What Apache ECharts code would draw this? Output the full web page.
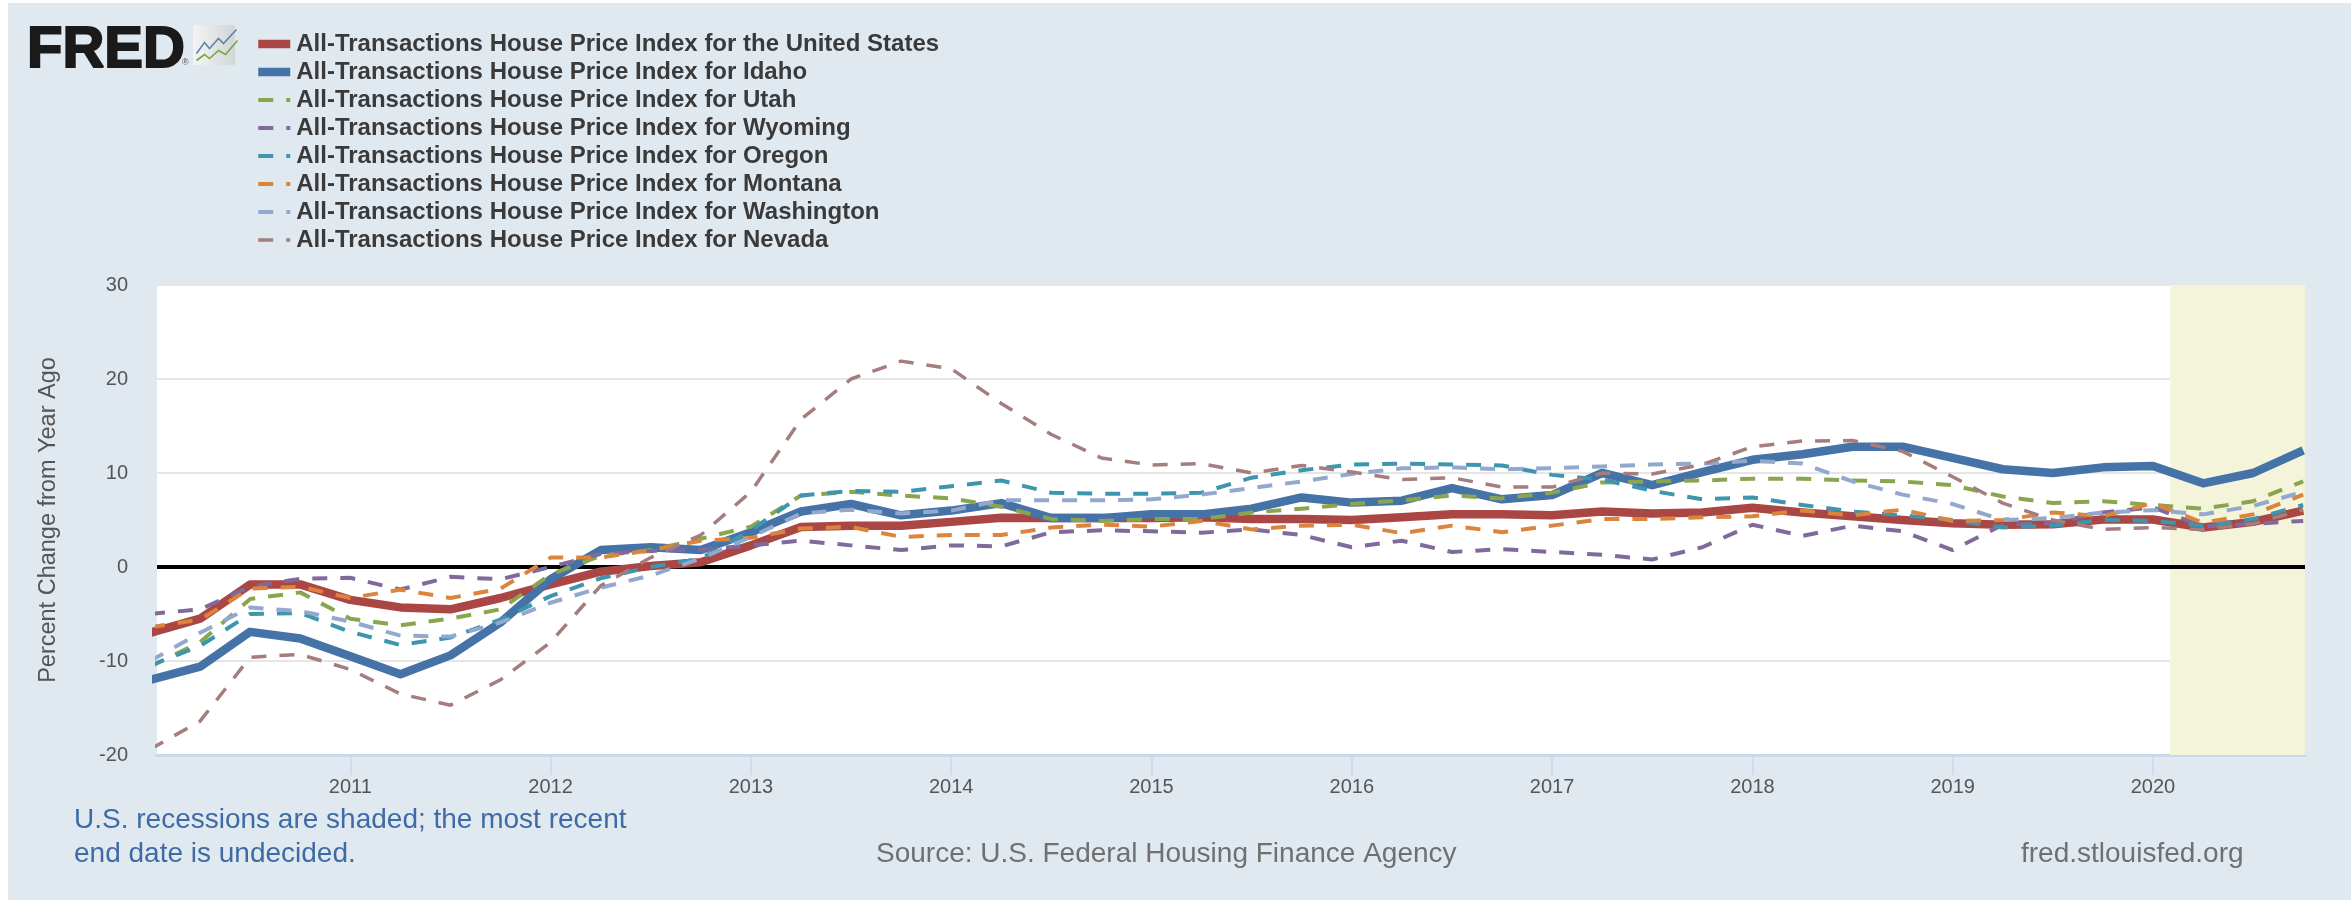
<!DOCTYPE html>
<html><head><meta charset="utf-8">
<style>
html,body{margin:0;padding:0;width:2351px;height:900px;background:#fff;overflow:hidden}
#bg{position:absolute;left:8px;top:3px;right:0;bottom:0;background:#e1e9f0}
#chart{position:absolute;left:0;top:0;width:2351px;height:900px}
</style>
<script src="https://cdn.jsdelivr.net/npm/echarts@6/dist/echarts.min.js"></script>
</head><body><div id="bg"></div><div id="chart"></div>
<script>
const quarters = [
 2010,2010.25,2010.5,2010.75, 2011,2011.25,2011.5,2011.75, 2012,2012.25,2012.5,2012.75,
 2013,2013.25,2013.5,2013.75, 2014,2014.25,2014.5,2014.75, 2015,2015.25,2015.5,2015.75,
 2016,2016.25,2016.5,2016.75, 2017,2017.25,2017.5,2017.75, 2018,2018.25,2018.5,2018.75,
 2019,2019.25,2019.5,2019.75, 2020,2020.25,2020.5,2020.75];
const yearTicks = [2011,2012,2013,2014,2015,2016,2017,2018,2019,2020];
const unitedStates = [-7.0,-5.5,-1.85,-1.85, -3.5,-4.3,-4.5,-3.3, -1.85,-0.5,0.1,0.5, 2.3,4.25,4.4,4.4, 4.8,5.25,5.2,5.2, 5.2,5.3,5.1,5.1, 5.0,5.3,5.6,5.6, 5.5,5.9,5.7,5.8, 6.3,5.8,5.4,5.0, 4.65,4.5,4.55,5.05, 5.05,4.2,4.8,6.0];
const idaho = [-12,-10.6,-6.9,-7.6, -9.5,-11.4,-9.4,-5.9, -1.3,1.8,2.1,1.8, 3.7,5.9,6.7,5.5, 6.0,6.8,5.2,5.2, 5.6,5.6,6.2,7.4, 6.85,7.05,8.4,7.2, 7.65,10,8.7,10.1, 11.4,12,12.8,12.8, 11.6,10.4,10,10.6, 10.75,8.9,10,12.4];
const utah = [-10.6,-8,-3.4,-2.7, -5.5,-6.2,-5.5,-4.5, -0.8,1.2,1.8,3, 4.3,7.6,8,7.6, 7.3,6.4,5.1,4.9, 5.1,5.1,5.8,6.2, 6.7,7.1,7.6,7.3, 7.9,9,9.1,9.2, 9.4,9.4,9.2,9.1, 8.7,7.5,6.8,7, 6.6,6.2,7,9.1];
const wyoming = [-5,-4.5,-2.1,-1.25, -1.15,-2.4,-1.05,-1.3, 0,1.4,1.7,1.85, 2.3,2.8,2.3,1.8, 2.3,2.2,3.7,3.9, 3.8,3.65,4,3.4, 2.1,2.8,1.6,1.9, 1.6,1.3,0.8,2.1, 4.5,3.3,4.4,3.8, 1.8,4.5,4.7,5.8, 6.35,4.3,4.6,4.9];
const oregon = [-10.5,-8.4,-5,-4.9, -6.9,-8.3,-7.5,-5.6, -3.1,-1.2,0,0.9, 3.9,7.6,8.1,8, 8.6,9.2,7.9,7.8, 7.8,7.9,9.5,10.3, 10.9,11,10.9,10.8, 9.8,9.3,8.1,7.2, 7.4,6.6,5.9,5.5, 5,4.2,4.4,5, 4.9,4.4,5.1,6.6];
const montana = [-6.4,-5.6,-2.3,-2.1, -3.3,-2.4,-3.3,-2.3, 1,1,1.8,2.8, 3.1,4.1,4.25,3.2, 3.4,3.4,4.2,4.5, 4.3,4.9,4,4.4, 4.5,3.6,4.4,3.7, 4.4,5.1,5.1,5.3, 5.4,6,5.5,6.1, 4.9,5,5.8,5.4, 6.8,4.7,5.6,7.7];
const washington = [-10,-7,-4.3,-4.7, -5.8,-7.3,-7.4,-5.9, -3.8,-2.2,-0.9,0.9, 3.2,5.7,6.1,5.7, 6,7.1,7.1,7.1, 7.2,7.7,8.4,9.1, 9.9,10.5,10.6,10.4, 10.5,10.7,10.9,11, 11.3,11,9.1,7.7, 6.7,5,5.2,5.8, 6.05,5.6,6.5,8];
const nevada = [-19.4,-16.4,-9.6,-9.3, -10.9,-13.5,-14.7,-12, -8,-2,1,3.4, 8,15.7,20,21.9, 21.1,17.4,14.1,11.6, 10.85,11,10,10.8, 10.1,9.3,9.5,8.5, 8.5,10,9.9,10.9, 12.8,13.4,13.45,12.3, 9.6,6.8,5,4, 4.2,4,4.6,6.1];
const recessionStart = 2020.086;
const axisStart = 2010.035, axisEnd = 2020.759;

const FONT = '"Liberation Sans", Arial, sans-serif';
const pair = v => v.map((y,i)=>[quarters[i],y]);
const prefix = 'All-Transactions House Price Index for ';
const dash = [15,13];
const defs = [
 {name:prefix+'the United States', data:unitedStates, color:'#aa4643', width:8.5},
 {name:prefix+'Idaho', data:idaho, color:'#4572a7', width:8.5},
 {name:prefix+'Utah', data:utah, color:'#89a54e', width:4, dash},
 {name:prefix+'Wyoming', data:wyoming, color:'#80699b', width:4, dash},
 {name:prefix+'Oregon', data:oregon, color:'#3d96ae', width:4, dash},
 {name:prefix+'Montana', data:montana, color:'#db843d', width:4, dash},
 {name:prefix+'Washington', data:washington, color:'#92a8cd', width:4, dash},
 {name:prefix+'Nevada', data:nevada, color:'#a47d7c', width:3.5, dash}
];
const series = defs.map((s,i)=>{
 const o = {name:s.name,type:'line',data:pair(s.data),showSymbol:false,symbol:'none',clip:true,
  itemStyle:{color:s.color},
  lineStyle:{color:s.color,width:s.width,type:s.dash||'solid',cap:'butt',join:'round'},
  z:3+i, silent:true};
 if(i===0){
  o.markArea={silent:true,z:1,itemStyle:{color:'#f4f4da'},data:[[{xAxis:recessionStart},{xAxis:axisEnd}]]};
  o.markLine={silent:true,z:2,symbol:'none',label:{show:false},lineStyle:{color:'#000',width:4,type:'solid'},data:[{yAxis:0}]};
 }
 return o;
});

const chart = echarts.init(document.getElementById('chart'),null,{renderer:'canvas'});
chart.setOption({
 animation:false,
 backgroundColor:'transparent',
 grid:{left:157,top:285,width:2148,height:470,show:true,backgroundColor:'#fff',borderWidth:0,containLabel:false,outerBoundsMode:'none'},
 legend:{orient:'vertical',left:249,top:27,itemWidth:32,itemHeight:14,itemGap:4,selectedMode:false,padding:5,
  itemStyle:{opacity:0},
  textStyle:{color:'#3a3a3a',fontFamily:FONT,fontWeight:'bold',fontSize:24,lineHeight:24,padding:[0,0,0,1]},
  data:defs.map(s=>({name:s.name,lineStyle:{width:s.width,color:s.color,type:s.dash||'solid',cap:'butt'}}))},
 xAxis:{type:'value',min:axisStart,max:axisEnd,splitLine:{show:false},
  axisLine:{show:true,onZero:false,lineStyle:{color:'#ccd6eb',width:3}},
  axisTick:{show:true,length:20,lineStyle:{color:'#ccd6eb',width:1.5},customValues:yearTicks},
  axisLabel:{customValues:yearTicks,formatter:v=>String(Math.round(v)),color:'#555',fontFamily:FONT,fontSize:20,margin:22}},
 yAxis:{type:'value',min:-20,max:30,interval:10,name:'Percent Change from Year Ago',nameLocation:'middle',nameGap:96,
  nameRotate:90,nameTextStyle:{color:'#555',fontFamily:FONT,fontSize:23.5},
  axisLine:{show:false},axisTick:{show:false},
  splitLine:{lineStyle:{color:'#e6e6e6',width:2}},
  axisLabel:{color:'#555',fontFamily:FONT,fontSize:20,margin:29,align:'right'}},
 graphic:[
  {type:'text',left:26,top:21,style:{text:'FRED',fill:'#1a1a1a',stroke:'#1a1a1a',lineWidth:2,font:'bold 58px '+FONT}},
  {type:'text',left:182,top:58,style:{text:'®',fill:'#555',font:'9px '+FONT}},
  {type:'rect',left:193,top:25,shape:{width:42,height:40,r:2},style:{fill:new echarts.graphic.LinearGradient(0,0,1,0,[{offset:0,color:'#f4f4f4'},{offset:1,color:'#d2d6d6'}])}},
  {type:'polyline',left:194,top:27,shape:{points:[[0,24],[8,13],[13,19],[22,9],[27,14],[40,0]]},style:{stroke:'#5b86ad',lineWidth:1.6,fill:null}},
  {type:'polyline',left:194,top:38,shape:{points:[[0,20],[8,14],[13,18],[22,10],[29,14],[41,0]]},style:{stroke:'#79a63f',lineWidth:1.6,fill:null}},
  {type:'text',left:74,top:806,style:{text:'U.S. recessions are shaded; the most recent',fill:'#3f6ba5',font:'28px '+FONT}},
  {type:'text',left:74,top:840,style:{text:'end date is undecided.',fill:'#3f6ba5',font:'28px '+FONT}},
  {type:'text',left:876,top:840,style:{text:'Source: U.S. Federal Housing Finance Agency',fill:'#707070',font:'28px '+FONT}},
  {type:'text',left:2021,top:840,style:{text:'fred.stlouisfed.org',fill:'#707070',font:'28px '+FONT}}
 ],
 series
});
</script></body></html>
